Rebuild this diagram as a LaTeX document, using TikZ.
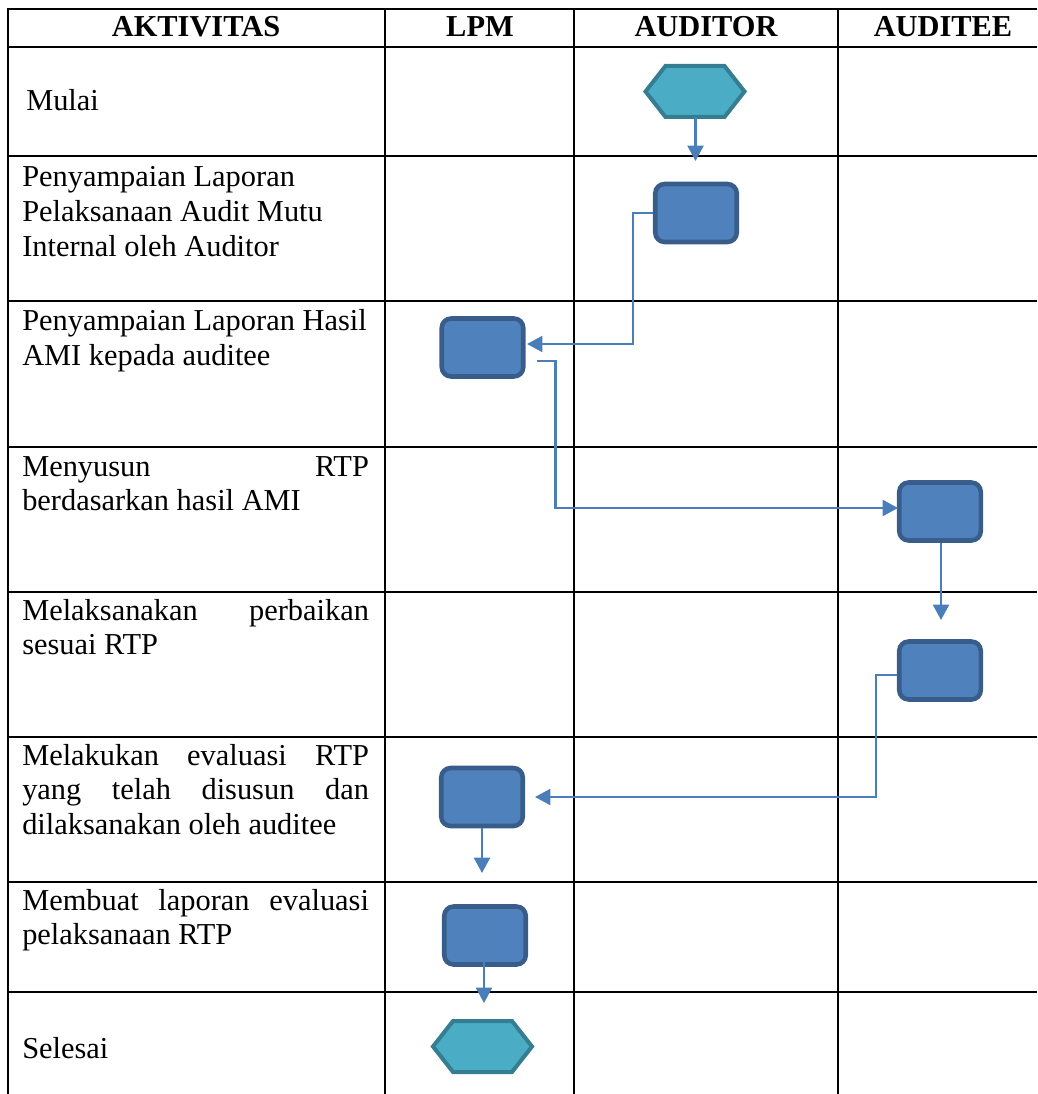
\documentclass[tikz,border=0pt]{standalone}
\usepackage{fontspec}
\setmainfont{Liberation Serif}
\usetikzlibrary{arrows.meta}
\definecolor{boxfill}{HTML}{4F81BD}
\definecolor{boxline}{HTML}{385D8A}
\definecolor{hexfill}{HTML}{4BACC6}
\definecolor{hexline}{HTML}{357D91}
\definecolor{flow}{HTML}{4A7EBB}
\newcommand{\jl}[1]{\makebox[\linewidth][s]{#1}}
\begin{document}
\begin{tikzpicture}[x=0.75pt,y=-0.75pt,
  grid/.style={line width=1.7pt, black},
  cell/.style={anchor=base west, inner sep=0, font=\fontsize{22.8}{26}\selectfont},
  head/.style={anchor=base, inner sep=0, font=\fontsize{22.8}{26}\selectfont\bfseries},
  procbox/.style={draw=boxline, fill=boxfill, line width=3.4pt, rounded corners=7pt,
    minimum width=81.5*0.75pt, minimum height=58*0.75pt, inner sep=0},
  hexanchor/.style={minimum width=99*0.75pt, minimum height=51*0.75pt, inner sep=0, outer sep=0},
  hexpath/.style={draw=hexline, fill=hexfill, line width=3pt, line join=miter},
  flowline/.style={draw=flow, line width=1.6pt, -{Triangle[width=12pt,length=11.5pt]}},
]
\useasboundingbox (0,0) rectangle (1037,1094);
% grid
\foreach \yy in {9,47,156,301,447,592,737,882,992}
  \draw[grid] (8,\yy) -- (1037,\yy);
\foreach \xx in {8,385,574,838}
  \draw[grid] (\xx,8.25) -- (\xx,1094);
% header
\node[head] (hA) at (196,37) {AKTIVITAS};
\node[head] (hL) at (480,37) {LPM};
\node[head] (hU) at (706,37) {AUDITOR};
\node[head] (hE) at (943,37) {AUDITEE};
% activity texts
\node[cell] (t1) at (26,111) {Mulai};
\node[cell] (t2) at (22,187) {\parbox[t]{260pt}{Penyampaian Laporan\\Pelaksanaan Audit Mutu\\Internal oleh Auditor}};
\node[cell] (t3) at (22,331) {\parbox[t]{260pt}{Penyampaian Laporan Hasil\\AMI kepada auditee}};
\node[cell] (t4) at (22,476) {\parbox[t]{260pt}{\jl{Menyusun RTP}\\berdasarkan hasil AMI}};
\node[cell] (t5) at (22,620) {\parbox[t]{260pt}{\jl{Melaksanakan perbaikan}\\sesuai RTP}};
\node[cell] (t6) at (22,765) {\parbox[t]{260pt}{\jl{Melakukan evaluasi RTP}\\\jl{yang telah disusun dan}\\dilaksanakan oleh auditee}};
\node[cell] (t7) at (22,910) {\parbox[t]{260pt}{\jl{Membuat laporan evaluasi}\\pelaksanaan RTP}};
\node[cell] (t8) at (22,1058) {Selesai};
% shapes
\node[hexanchor] (start) at (695,91.5) {};
\draw[hexpath] (start.west) -- ([xshift=15pt]start.north west) -- ([xshift=-15pt]start.north east)
  -- (start.east) -- ([xshift=-15pt]start.south east) -- ([xshift=15pt]start.south west) -- cycle;
\node[procbox] (b1) at (696,213) {};
\node[procbox] (b2) at (482.5,347.5) {};
\node[procbox] (b3) at (940,511.5) {};
\node[procbox] (b4) at (940,670.5) {};
\node[procbox] (b5) at (482,797) {};
\node[procbox] (b6) at (485,935.5) {};
\node[hexanchor] (stop) at (482.5,1046.5) {};
\draw[hexpath] (stop.west) -- ([xshift=15pt]stop.north west) -- ([xshift=-15pt]stop.north east)
  -- (stop.east) -- ([xshift=-15pt]stop.south east) -- ([xshift=15pt]stop.south west) -- cycle;
% connectors
\coordinate (a1) at (695.5,161);
\draw[flowline] (start.south -| a1) -- (a1);
\coordinate (a2) at (527,344);
\draw[flowline] (b1.west) -| (633,344) -- (a2);
\coordinate (a3s) at (537,361);
\coordinate (a3e) at (898,508);
\draw[flowline] (a3s) -| (555.5,508) -- (a3e);
\coordinate (a4) at (941,620);
\draw[flowline] (b3.south -| a4) -- (a4);
\coordinate (a5) at (535,797);
\draw[flowline] ([yshift=-3.4pt]b4.west) -| (876,797) -- (a5);
\coordinate (a6) at (482,873);
\draw[flowline] (b5.south) -- (a6);
\coordinate (a7s) at (484,962);
\coordinate (a7) at (484,1003);
\draw[flowline] (a7s) -- (a7);
\end{tikzpicture}
\end{document}
